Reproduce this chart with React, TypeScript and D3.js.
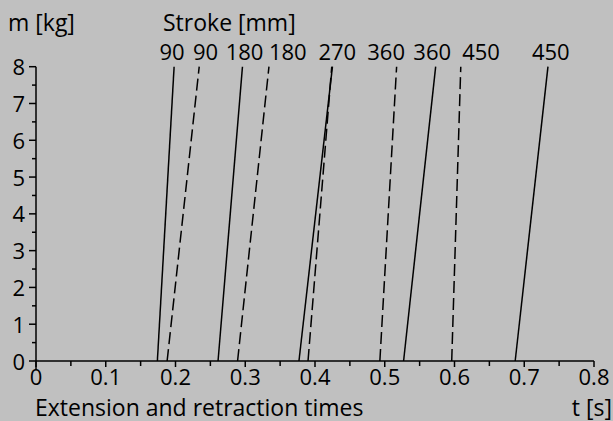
import React from "react";
import * as d3 from "d3";

// stroke labels above the lines
const strokeLabels = ["90", "90", "180", "180", "270", "360", "360", "450", "450"];
const strokeLabelT = [0.195, 0.243, 0.299, 0.361, 0.432, 0.502, 0.568, 0.638, 0.738];

// one line per stroke: time at m=0 and at m=8, solid or dashed
const lineStroke = [90, 90, 180, 180, 270, 270, 360, 360, 450, 450];
const lineDashed = [false, true, false, true, false, true, true, false, true, false];
const tAtZero = [0.174, 0.188, 0.261, 0.289, 0.377, 0.39, 0.493, 0.527, 0.596, 0.687];
const tAtEight = [0.198, 0.234, 0.296, 0.334, 0.425, 0.424, 0.517, 0.573, 0.609, 0.734];

const xMajor = [0, 0.1, 0.2, 0.3, 0.4, 0.5, 0.6, 0.7, 0.8];
const xMinor = [0.05, 0.15, 0.25, 0.35, 0.45, 0.55, 0.65, 0.75];
const yMajor = [0, 1, 2, 3, 4, 5, 6, 7, 8];
const yMinor = [0.5, 1.5, 2.5, 3.5, 4.5, 5.5, 6.5, 7.5];

const W = 613;
const H = 421;
const FONT = "'Open Sans', 'Noto Sans', sans-serif";

export default function App() {
  const x = d3.scaleLinear().domain([0, 0.8]).range([36, 594]);
  const y = d3.scaleLinear().domain([0, 8]).range([361, 66.7]);
  const line = d3.line<[number, number]>().x(d => x(d[0])).y(d => y(d[1]));

  return (
    <>
      <style>{"body{margin:0}"}</style>
      <svg width={W} height={H} style={{ display: "block", background: "#c0c0c0" }}
        fontFamily={FONT} fill="#000">
        {/* axes */}
        <g stroke="#000" strokeWidth={1.5}>
          <line x1={x(0)} x2={x(0)} y1={y(8)} y2={y(0) + 9} />
          <line x1={x(0)} x2={x(0.8)} y1={y(0)} y2={y(0)} />
          {xMajor.map(t => <line key={"xM" + t} x1={x(t)} x2={x(t)} y1={y(0)} y2={y(0) + 6} />)}
          {xMinor.map(t => <line key={"xm" + t} x1={x(t)} x2={x(t)} y1={y(0)} y2={y(0) + 5} />)}
          {yMajor.map(v => <line key={"yM" + v} x1={x(0) - 7} x2={x(0)} y1={y(v)} y2={y(v)} />)}
          {yMinor.map(v => <line key={"ym" + v} x1={x(0) - 4} x2={x(0)} y1={y(v)} y2={y(v)} />)}
        </g>
        <g fontSize={22}>
          {xMajor.map(t => (
            <text key={"xl" + t} x={x(t)} y={385} textAnchor="middle">{String(+t.toFixed(1))}</text>
          ))}
          {yMajor.map(v => (
            <text key={"yl" + v} x={25} y={y(v) + 8.5} textAnchor="end">{v}</text>
          ))}
          {strokeLabels.map((s, i) => (
            <text key={"sl" + i} x={x(strokeLabelT[i])} y={60} textAnchor="middle">{s}</text>
          ))}
        </g>
        <g fontSize={23}>
          <text x={8} y={31}>m [kg]</text>
          <text x={163} y={31}>Stroke [mm]</text>
          <text x={35} y={416}>Extension and retraction times</text>
          <text x={612} y={416} textAnchor="end">t [s]</text>
        </g>
        {/* stroke lines */}
        <g fill="none" stroke="#000" strokeWidth={1.5}>
          {lineStroke.map((s, i) => (
            <path key={"l" + i}
              d={line([[tAtZero[i], 0], [tAtEight[i], 8]]) || ""}
              strokeDasharray={lineDashed[i] ? "12,5" : undefined} />
          ))}
        </g>
      </svg>
    </>
  );
}
